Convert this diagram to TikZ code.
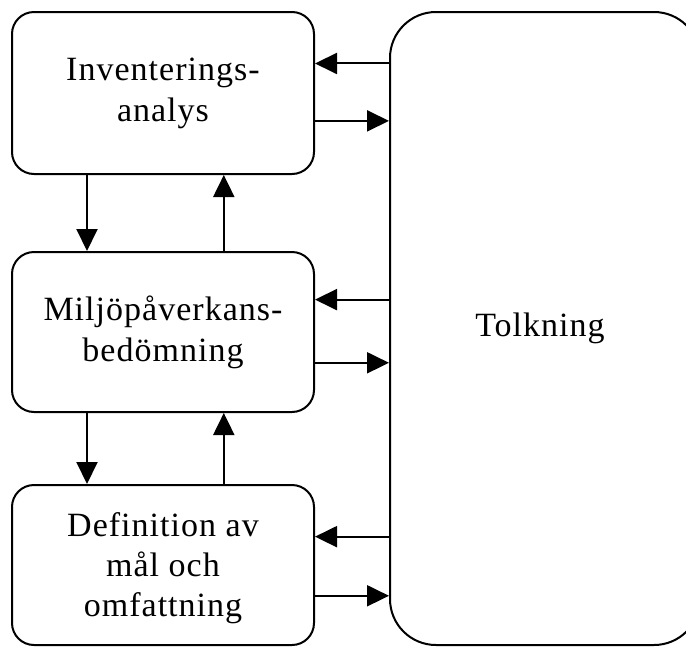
\documentclass[tikz,border=0pt]{standalone}
\usepackage{fontspec}
\setmainfont[LetterSpace=3]{Liberation Serif}
\usepackage{tikz}
\usetikzlibrary{calc,arrows.meta}

\tikzset{
  stepbox/.style={draw, line width=2pt, rounded corners=22pt, align=center,
    minimum width=302pt, font=\fontsize{34}{41}\selectfont, inner sep=0pt},
  arr/.style={line width=2pt, -{Triangle[length=22pt,width=21pt]}}
}

\begin{document}
\begin{tikzpicture}[x=1pt, y=-1pt]
  \useasboundingbox (0,0) rectangle (686,646);
  \clip (0,0) rectangle (686,646);
  \fill[white] (0,0) rectangle (686,646);
  % the four boxes
  \node[stepbox, minimum height=162pt] (inv) at (163,93) {Inventerings-\\analys};
  \node[stepbox, minimum height=160pt] (milj) at (163,332) {Miljöpåverkans-\\bedömning};
  \node[stepbox, minimum height=160pt, font=\fontsize{34}{40}\selectfont] (def) at (163,565) {\\[-10pt]Definition av\\mål och\\omfattning};
  \node[stepbox, rounded corners=46pt, minimum width=310pt, minimum height=633pt] (tolk) at (545,328.5) {\hspace*{-10pt}Tolkning};
  % points on the right side of each box
  \coordinate (inv1) at ($(inv.north east)!0.32!(inv.south east)$);
  \coordinate (inv2) at ($(inv.north east)!0.67!(inv.south east)$);
  \coordinate (milj1) at ($(milj.north east)!0.30!(milj.south east)$);
  \coordinate (milj2) at ($(milj.north east)!0.69!(milj.south east)$);
  \coordinate (def1) at ($(def.north east)!0.325!(def.south east)$);
  \coordinate (def2) at ($(def.north east)!0.69!(def.south east)$);
  % points along the bottoms
  \coordinate (inva) at ($(inv.south west)!0.25!(inv.south east)$);
  \coordinate (invb) at ($(inv.south west)!0.70!(inv.south east)$);
  \coordinate (milja) at ($(milj.south west)!0.25!(milj.south east)$);
  \coordinate (miljb) at ($(milj.south west)!0.70!(milj.south east)$);
  % to and from Tolkning
  \draw[arr] (tolk.west |- inv1) -- (inv1);
  \draw[arr] (inv2) -- (tolk.west |- inv2);
  \draw[arr] (tolk.west |- milj1) -- (milj1);
  \draw[arr] (milj2) -- (tolk.west |- milj2);
  \draw[arr] (tolk.west |- def1) -- (def1);
  \draw[arr] (def2) -- (tolk.west |- def2);
  % between the boxes
  \draw[arr] (inva) -- (inva |- milj.north);
  \draw[arr] (invb |- milj.north) -- (invb);
  \draw[arr] (milja) -- (milja |- def.north);
  \draw[arr] (miljb |- def.north) -- (miljb);
\end{tikzpicture}
\end{document}
